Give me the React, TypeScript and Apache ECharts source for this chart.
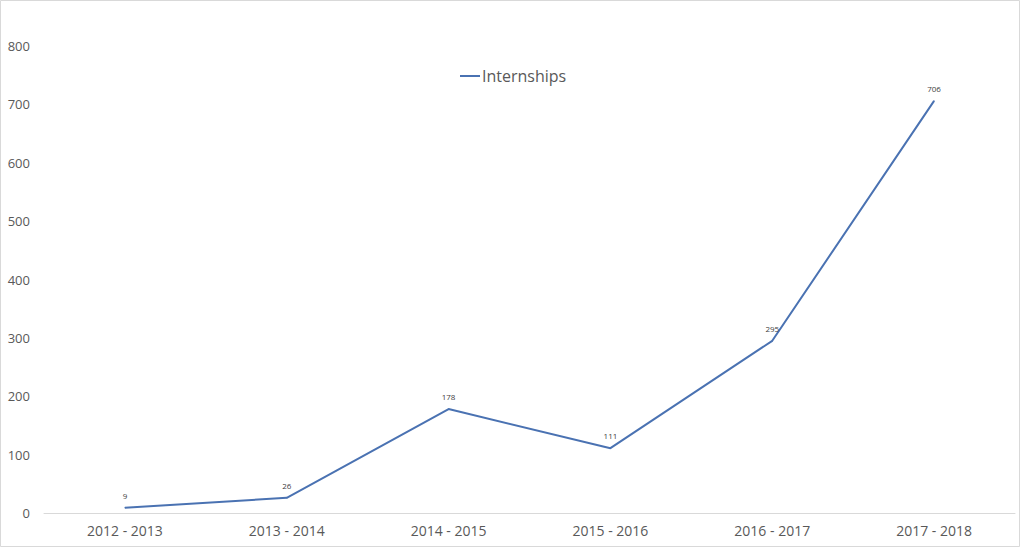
import React, { useEffect, useRef } from "react";
import * as echarts from "echarts";

const categories = ["2012 - 2013", "2013 - 2014", "2014 - 2015", "2015 - 2016", "2016 - 2017", "2017 - 2018"];
const internships = [9, 26, 178, 111, 295, 706];
const seriesName = "Internships";

export default function App() {
  const ref = useRef<HTMLDivElement>(null);
  useEffect(() => {
    document.body.style.margin = "0";
    const chart = echarts.init(ref.current!, null, { renderer: "svg" });
    chart.setOption({
      animation: false,
      backgroundColor: "#ffffff",
      textStyle: { fontFamily: "Open Sans" },
      graphic: [
        {
          type: "rect",
          shape: { x: 0.5, y: 0.5, width: 1019, height: 546 },
          style: { fill: "none", stroke: "#d9d9d9", lineWidth: 1 },
          silent: true,
        },
      ],
      legend: {
        data: [{ name: seriesName, icon: "rect", itemStyle: { color: "#4a72b2" } }],
        left: 455,
        top: 63,
        itemWidth: 20,
        itemHeight: 2,
        itemGap: 4,
        textStyle: { fontFamily: "Open Sans", fontSize: 16, color: "#595959", padding: [0, 0, 0, -3] },
      },
      grid: { left: 44, right: 9, top: 46, bottom: 35, containLabel: false },
      xAxis: {
        type: "category",
        data: categories,
        boundaryGap: true,
        axisLine: { lineStyle: { color: "#d9d9d9", width: 1 } },
        axisTick: { show: false },
        axisLabel: { color: "#595959", fontSize: 14, fontFamily: "Open Sans", margin: 10 },
      },
      yAxis: {
        type: "value",
        min: 0,
        max: 800,
        interval: 100,
        splitLine: { show: false },
        axisLine: { show: false },
        axisTick: { show: false },
        axisLabel: { color: "#595959", fontSize: 13, fontFamily: "Open Sans", margin: 14 },
      },
      series: [
        {
          name: seriesName,
          type: "line",
          data: internships,
          showSymbol: true,
          symbol: "circle",
          symbolSize: 1,
          lineStyle: { color: "#4a72b2", width: 2 },
          itemStyle: { color: "#4a72b2" },
          label: {
            show: true,
            position: "top",
            distance: 8,
            fontSize: 8,
            color: "#404040",
            fontFamily: "Open Sans",
          },
        },
      ],
    });
    return () => chart.dispose();
  }, []);
  return <div ref={ref} style={{ width: 1024, height: 548 }} />;
}
